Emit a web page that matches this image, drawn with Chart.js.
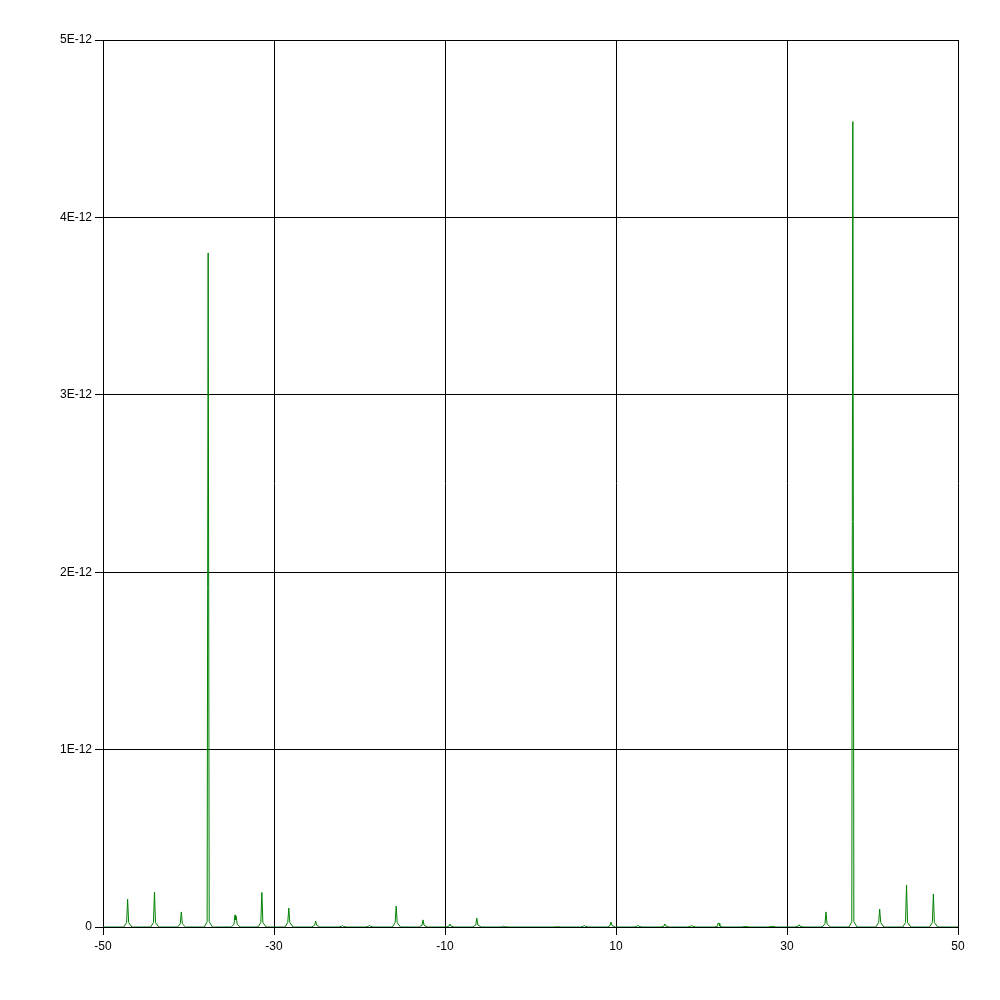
<!DOCTYPE html>
<html>
<head>
<meta charset="utf-8">
<script src="https://cdn.jsdelivr.net/npm/chart.js@4.4.1/dist/chart.umd.min.js"></script>
<style>
html,body{margin:0;padding:0;background:#fff;}
#c{display:block;}
</style>
</head>
<body>
<canvas id="c" width="1000" height="1000"></canvas>
<script>
// x tick values and y tick values (y in units of 1E-12)
const xTicks = [-50, -30, -10, 10, 30, 50];
const yTicks = [0, 1, 2, 3, 4, 5];

// spectrum series: x positions and amplitudes (units of 1E-12)
const xValues = [
  -50,
  -47.57, -47.24, -47.12, -47.00, -46.62,
  -44.43, -44.10, -43.98, -43.86, -43.48,
  -41.29, -40.96, -40.84, -40.72, -40.34,
  -38.15, -37.82, -37.70, -37.58, -37.20,
  -35.01, -34.68, -34.56, -34.50, -34.42, -34.30, -33.95,
  -31.87, -31.54, -31.42, -31.30, -30.92,
  -28.72, -28.39, -28.27, -28.15, -27.77,
  -25.58, -25.25, -25.13, -25.01, -24.63,
  -22.44, -22.11, -21.99, -21.87, -21.49,
  -19.30, -18.97, -18.85, -18.73, -18.35,
  -16.16, -15.83, -15.71, -15.59, -15.21,
  -13.02, -12.69, -12.57, -12.45, -12.07,
  -9.87, -9.54, -9.42, -9.30, -8.92,
  -6.73, -6.40, -6.28, -6.16, -5.78,
  -3.59, -3.26, -3.14, -3.02, -2.64,
  2.69, 3.02, 3.14, 3.26, 3.64,
  5.83, 6.16, 6.28, 6.40, 6.78,
  8.97, 9.30, 9.42, 9.54, 9.92,
  12.12, 12.45, 12.57, 12.69, 13.07,
  15.26, 15.59, 15.71, 15.83, 16.21,
  18.40, 18.73, 18.85, 18.97, 19.35,
  21.54, 21.84, 21.90, 22.08, 22.14, 22.49,
  24.68, 25.13, 25.58,
  27.82, 28.27, 28.72,
  30.97, 31.30, 31.42, 31.54, 31.92,
  34.11, 34.44, 34.56, 34.68, 35.06,
  37.25, 37.58, 37.70, 37.82, 38.20,
  40.39, 40.72, 40.84, 40.96, 41.34,
  43.53, 43.86, 43.98, 44.10, 44.48,
  46.67, 47.00, 47.12, 47.24, 47.62,
  50
];
const yValues = [
  0,
  0, 0.025, 0.156, 0.025, 0,
  0, 0.025, 0.197, 0.025, 0,
  0, 0.018, 0.085, 0.018, 0,
  0, 0.030, 3.80, 0.030, 0,
  0, 0.015, 0.068, 0.040, 0.060, 0.015, 0,
  0, 0.025, 0.195, 0.025, 0,
  0, 0.025, 0.107, 0.025, 0,
  0, 0.010, 0.034, 0.010, 0,
  0, 0.003, 0.008, 0.003, 0,
  0, 0.003, 0.010, 0.003, 0,
  0, 0.025, 0.118, 0.025, 0,
  0, 0.010, 0.040, 0.010, 0,
  0, 0.005, 0.017, 0.005, 0,
  0, 0.012, 0.050, 0.012, 0,
  0, 0.002, 0.005, 0.002, 0,
  0, 0.001, 0.003, 0.001, 0,
  0, 0.003, 0.010, 0.003, 0,
  0, 0.008, 0.028, 0.008, 0,
  0, 0.003, 0.010, 0.003, 0,
  0, 0.005, 0.017, 0.005, 0,
  0, 0.003, 0.010, 0.003, 0,
  0, 0.005, 0.020, 0.020, 0.005, 0,
  0, 0.003, 0,
  0, 0.004, 0,
  0, 0.004, 0.013, 0.004, 0,
  0, 0.018, 0.085, 0.018, 0,
  0, 0.030, 4.54, 0.030, 0,
  0, 0.025, 0.101, 0.025, 0,
  0, 0.025, 0.237, 0.025, 0,
  0, 0.025, 0.186, 0.025, 0,
  0
];

const points = xValues.map((x, i) => ({x: x, y: yValues[i]}));

new Chart(document.getElementById('c'), {
  type: 'scatter',
  data: {
    datasets: [{
      data: points,
      showLine: true,
      borderColor: '#008000',
      borderWidth: 1,
      pointRadius: 0,
      tension: 0,
      fill: false
    }]
  },
  options: {
    responsive: false,
    animation: false,
    devicePixelRatio: 1,
    layout: {padding: {top: 40, right: 42, left: 0, bottom: 0}},
    plugins: {legend: {display: false}, tooltip: {enabled: false}},
    scales: {
      x: {
        type: 'linear',
        min: -50, max: 50,
        afterBuildTicks: s => { s.ticks = xTicks.map(v => ({value: v})); },
        afterFit: s => { s.height = 73; },
        grid: {color: '#000', lineWidth: 1, drawTicks: true, tickLength: 8, tickColor: '#000'},
        border: {display: true, color: '#000', width: 1},
        ticks: {
          color: '#000', padding: 4, maxRotation: 0, autoSkip: false,
          font: {family: 'Liberation Sans, Arial, sans-serif', size: 12},
          callback: v => String(v)
        }
      },
      y: {
        type: 'linear',
        min: 0, max: 5,
        afterBuildTicks: s => { s.ticks = yTicks.map(v => ({value: v})); },
        afterFit: s => { s.width = 103; },
        grid: {color: '#000', lineWidth: 1, drawTicks: true, tickLength: 8, tickColor: '#000'},
        border: {display: true, color: '#000', width: 1},
        ticks: {
          color: '#000', padding: 3, autoSkip: false,
          font: {family: 'Liberation Sans, Arial, sans-serif', size: 12},
          callback: v => v === 0 ? '0' : Math.round(v) + 'E-12'
        }
      }
    }
  }
});
</script>
</body>
</html>
